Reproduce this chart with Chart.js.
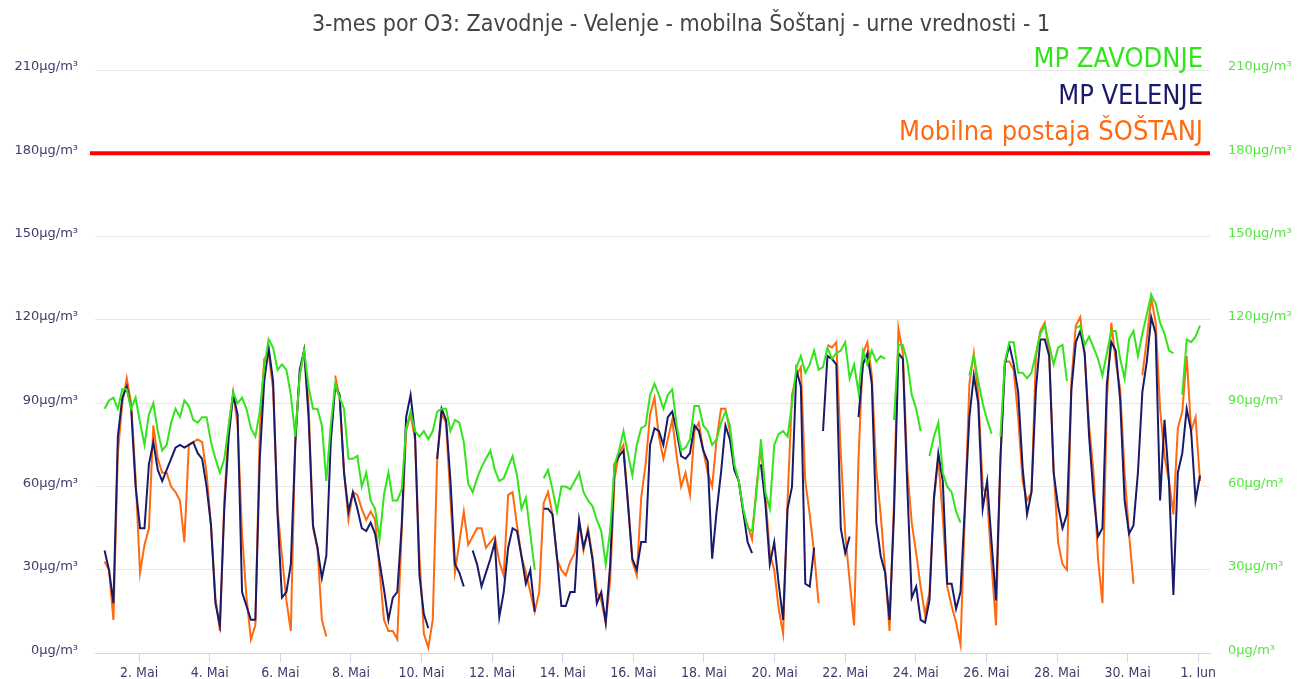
<!DOCTYPE html>
<html>
<head>
<meta charset="utf-8">
<title>3-mes por O3: Zavodnje - Velenje - mobilna Šoštanj</title>
<script src="https://cdn.jsdelivr.net/npm/chart.js@4.4.1/dist/chart.umd.min.js"></script>
<style>
  html, body { margin: 0; padding: 0; background: #fff; }
  #wrap { width: 1298px; height: 679px; position: relative; }
</style>
</head>
<body>
<div id="wrap"><canvas id="o3Chart"></canvas></div>
<script>
// O3 readings, sampled from the hourly curves roughly every 3 h (one row = one day, 1.-31. May)
// sample i sits at sampleStart + i * sampleStep hours after 1 May 00:00
const sampleStart = 0.5;
const sampleStep = 3.015;

const zavodnje = [
  88, 91, 92, 88, 95, 95, 88, 92,
  83, 75, 86, 90, 80, 73, 75, 83,
  88, 85, 91, 89, 84, 83, 85, 85,
  76, 70, 65, 70, 82, 94, 90, 92,
  88, 81, 78, 87, 103, 113, 110, 102,
  104, 102, 93, 78, 100, 109, 96, 88,
  88, 82, 62, 82, 97, 92, 88, 70,
  70, 71, 60, 65, 55, 52, 41, 57,
  65, 55, 55, 59, 81, 87, 80, 78,
  80, 77, 80, 87, 88, 88, 80, 84,
  83, 76, 61, 58, 63, 67, 70, 73,
  66, 62, 63, 67, 71, 64, 52, 56,
  43, 30, null, 63, 66, 59, 51, 60,
  60, 59, 62, 65, 58, 55, 53, 48,
  44, 32, 44, 68, 73, 80, 72, 64,
  75, 81, 82, 93, 97, 93, 88, 93,
  95, 82, 73, 74, 77, 89, 89, 82,
  80, 75, 77, 83, 87, 82, 68, 62,
  52, 45, 44, 58, 77, 58, 52, 75,
  79, 80, 78, 90, 103, 107, 101, 104,
  109, 102, 103, 110, 106, 108, 109, 112,
  99, 104, 94, 109, 104, 109, 105, 107,
  106, null, 84, 111, 111, 105, 93, 88,
  80, null, 71, 78, 83, 65, 60, 58,
  51, 47, null, 100, 107, 98, 90, 84,
  79, null, 78, 105, 112, 112, 101, 101,
  99, 101, 108, 115, 118, 111, 104, 110,
  111, 98, null, 117, 118, 111, 114, 110,
  106, 100, 108, 116, 116, 106, 99, 113,
  116, 107, 115, 122, 129, 126, 119, 115,
  109, 108, null, 93, 113, 112, 114, 118
];

const velenje = [
  37, 30, 18, 78, 92, 96, 88, 60,
  45, 45, 68, 76, 66, 62, 66, 70,
  74, 75, 74, 75, 76, 72, 70, 60,
  46, 18, 10, 52, 78, 93, 86, 22,
  17, 12, 12, 70, 98, 110, 98, 50,
  20, 22, 32, 75, 102, 109, 85, 46,
  38, 27, 35, 76, 96, 93, 65, 51,
  58, 52, 45, 44, 47, 43, 33, 23,
  12, 20, 22, 46, 85, 93, 79, 28,
  14, 9, null, 70, 88, 84, 62, 32,
  29, 24, null, 37, 32, 24, 29, 34,
  40, 13, 22, 38, 45, 44, 35, 25,
  30, 15, null, 52, 52, 50, 35, 17,
  17, 22, 22, 48, 38, 44, 34, 18,
  22, 11, 32, 68, 71, 73, 54, 34,
  30, 40, 40, 75, 81, 80, 75, 85,
  87, 80, 71, 70, 72, 82, 80, 73,
  69, 34, 51, 65, 82, 77, 66, 62,
  51, 40, 36, null, 68, 54, 32, 40,
  25, 12, 52, 60, 102, 96, 25, 24,
  38, null, 80, 107, 106, 104, 45, 36,
  42, null, 85, 104, 108, 97, 47, 35,
  29, 12, 50, 108, 106, 60, 20, 24,
  12, 11, 19, 56, 72, 62, 25, 25,
  16, 22, 53, 85, 100, 90, 52, 62,
  40, 19, 70, 104, 111, 104, 94, 67,
  50, 58, 95, 113, 113, 107, 65, 53,
  45, 50, 95, 112, 116, 108, 78, 57,
  42, 45, 97, 112, 109, 91, 55, 43,
  46, 65, 94, 105, 121, 115, 55, 84,
  62, 21, 65, 72, 88, 80, 55, 64
];

const sostanj = [
  33, 30, 12, 72, 90, 99, 90, 63,
  29, 39, 45, 82, 70, 65, 65, 60,
  58, 55, 40, 75, 76, 77, 76, 65,
  46, 20, 8, 55, 82, 94, 82, 43,
  20, 5, 10, 80, 106, 108, 95, 52,
  35, 19, 8, 78, 100, 109, 90, 45,
  38, 12, 6, null, 100, 92, 65, 48,
  58, 57, 52, 48, 51, 48, 30, 12,
  8, 8, 5, 44, 80, 86, 77, 35,
  7, 2, 12, 70, 86, 83, 55, 29,
  40, 51, 39, 42, 45, 45, 38, 40,
  42, 33, 28, 57, 58, 46, 35, 29,
  22, 15, 22, 54, 58, 50, 34, 30,
  28, 33, 36, 47, 37, 45, 35, 22,
  19, 11, 26, 63, 72, 75, 55, 33,
  28, 56, 68, 86, 92, 78, 70, 77,
  84, 71, 60, 65, 57, 80, 83, 73,
  65, 60, 77, 88, 88, 80, 67, 62,
  51, 46, 41, 60, 74, 57, 36, 30,
  16, 7, 55, 93, 100, 103, 62, 50,
  36, 18, null, 111, 110, 112, 72, 43,
  26, 10, 70, 108, 112, 100, 66, 50,
  30, 8, 55, 117, 108, 66, 47, 36,
  24, 14, 22, 55, 70, 49, 24, 17,
  11, 3, 51, 97, 108, 93, 60, 56,
  32, 10, 70, 105, 105, 102, 85, 62,
  55, 58, 107, 116, 119, 108, 66, 40,
  32, 30, 98, 118, 121, 107, 82, 65,
  34, 18, 91, 119, 105, 95, 65, 43,
  25, null, 100, 113, 128, 119, 88, 71,
  62, 50, 81, 87, 107, 80, 85, 62
];

const seriesNames = ['MP ZAVODNJE', 'MP VELENJE', 'Mobilna postaja ŠOŠTANJ'];
const seriesColors = ['#33e31c', '#1a1a6b', '#ff6a10'];

// x axis: tick every second day (days counted from 1 May 00:00)
const dayTicks = [1, 3, 5, 7, 9, 11, 13, 15, 17, 19, 21, 23, 25, 27, 29, 31];
const dayTickLabels = ['2. Mai', '4. Mai', '6. Mai', '8. Mai', '10. Mai', '12. Mai', '14. Mai', '16. Mai',
  '18. Mai', '20. Mai', '22. Mai', '24. Mai', '26. Mai', '28. Mai', '30. Mai', '1. Jun'];

const yTicks = [0, 30, 60, 90, 120, 150, 180, 210];
const yTickLabels = ['0µg/m³', '30µg/m³', '60µg/m³', '90µg/m³', '120µg/m³', '150µg/m³', '180µg/m³', '210µg/m³'];

const limitValue = 180;
const chartTitle = '3-mes por O3: Zavodnje - Velenje - mobilna Šoštanj - urne vrednosti - 1';

const narrowFont = "'Liberation Sans Narrow', 'Arial Narrow', 'DejaVu Sans Condensed', 'Liberation Sans', sans-serif";

function toPoints(values) {
  return values.map((v, i) => ({ x: sampleStart + i * sampleStep, y: v }));
}

// red limit line across the plot
const limitLine = {
  id: 'limitLine',
  beforeDatasetsDraw(chart) {
    const { ctx, chartArea, scales } = chart;
    const y = scales.y.getPixelForValue(limitValue);
    ctx.save();
    ctx.strokeStyle = '#ff0000';
    ctx.lineWidth = 4;
    ctx.beginPath();
    ctx.moveTo(chartArea.left - 5, y);
    ctx.lineTo(chartArea.right, y);
    ctx.stroke();
    ctx.restore();
  }
};

// title + coloured station names in the top right
const headerText = {
  id: 'headerText',
  afterDraw(chart) {
    const { ctx, chartArea } = chart;
    ctx.save();
    ctx.fillStyle = '#444444';
    ctx.font = '23px ' + narrowFont;
    ctx.textAlign = 'center';
    ctx.textBaseline = 'alphabetic';
    ctx.fillText(chartTitle, 681, 31);

    ctx.font = '27px ' + narrowFont;
    ctx.textAlign = 'right';
    seriesNames.forEach((name, i) => {
      ctx.fillStyle = seriesColors[i];
      ctx.fillText(name, chartArea.right - 7, 67 + i * 36.5);
    });
    ctx.restore();
  }
};

const axisColor = '#3d3d6d';

new Chart(document.getElementById('o3Chart'), {
  type: 'line',
  data: {
    datasets: [
      { label: seriesNames[0], data: toPoints(zavodnje), borderColor: seriesColors[0] },
      { label: seriesNames[1], data: toPoints(velenje), borderColor: seriesColors[1] },
      { label: seriesNames[2], data: toPoints(sostanj), borderColor: seriesColors[2] }
    ]
  },
  options: {
    responsive: true,
    maintainAspectRatio: false,
    animation: false,
    layout: { padding: { top: 70, left: 0, right: 0, bottom: 0 } },
    elements: {
      line: { borderWidth: 2, tension: 0, fill: false },
      point: { radius: 0, hoverRadius: 0 }
    },
    spanGaps: false,
    plugins: {
      legend: { display: false },
      title: { display: false },
      tooltip: { enabled: false }
    },
    scales: {
      x: {
        type: 'linear',
        min: -6,
        max: 752,
        afterBuildTicks(scale) {
          scale.ticks = dayTicks.map(d => ({ value: d * 24 }));
        },
        afterFit(scale) { scale.height = 24; },
        grid: { drawOnChartArea: false, drawTicks: true, tickLength: 9, tickColor: '#ccd6eb' },
        border: { display: true, color: '#ccd6eb', width: 1 },
        ticks: {
          autoSkip: false,
          maxRotation: 0,
          padding: 3,
          color: axisColor,
          font: { family: narrowFont, size: 14 },
          callback: (value, index) => dayTickLabels[index]
        }
      },
      y: {
        position: 'left',
        min: 0,
        max: 210,
        afterBuildTicks(scale) {
          scale.ticks = yTicks.map(v => ({ value: v }));
        },
        afterFit(scale) { scale.width = 95; },
        grid: { color: '#e6e6e6', drawTicks: false },
        border: { display: false },
        ticks: {
          padding: 17,
          labelOffset: -3,
          color: axisColor,
          font: { family: 'DejaVu Sans', size: 13 },
          callback: (value, index) => yTickLabels[index]
        }
      },
      y2: {
        position: 'right',
        min: 0,
        max: 210,
        afterBuildTicks(scale) {
          scale.ticks = yTicks.map(v => ({ value: v }));
        },
        afterFit(scale) { scale.width = 88; },
        grid: { display: false, drawTicks: false },
        border: { display: false },
        ticks: {
          padding: 18,
          labelOffset: -3,
          color: '#55e640',
          font: { family: 'DejaVu Sans', size: 13 },
          callback: (value, index) => yTickLabels[index]
        }
      }
    }
  },
  plugins: [limitLine, headerText]
});
</script>
</body>
</html>
